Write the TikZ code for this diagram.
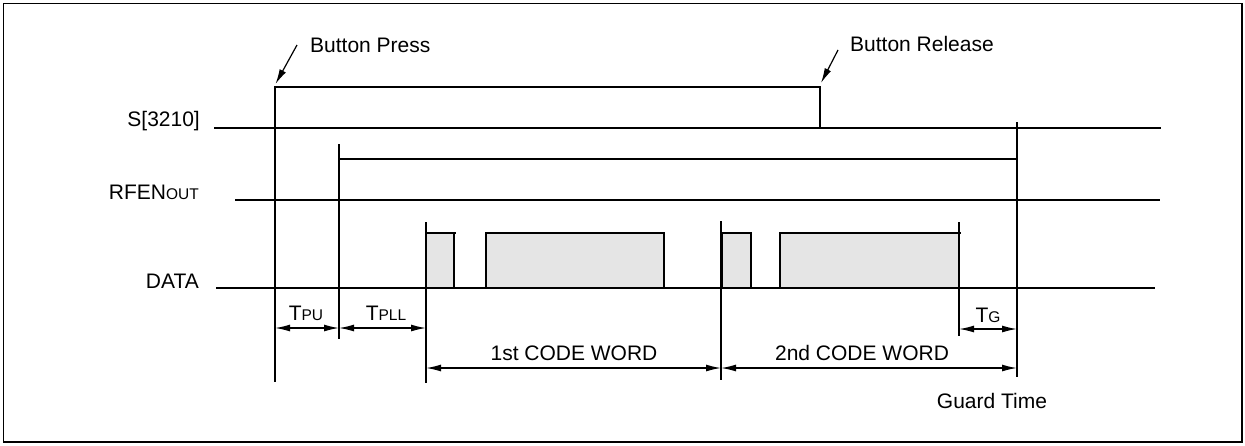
\documentclass[tikz,border=0pt]{standalone}
\usepackage{fontspec}
\setmainfont{Liberation Sans}
\usetikzlibrary{arrows.meta}
\newcommand\lowsc[1]{{\fontsize{15.5}{18}\selectfont #1}}
\begin{document}
\begin{tikzpicture}[x=1pt,y=-1pt,
  sig/.style={line width=2.3pt},
  guide/.style={line width=1.7pt},
  dim/.style={line width=1.4pt,{Latex[length=15pt,width=7pt]}-{Latex[length=15pt,width=7pt]}},
  callout/.style={line width=1.2pt,-{Latex[length=15pt,width=7pt]}},
  lbl/.style={font=\fontsize{21}{24}\selectfont, inner sep=0pt},
  pulsefill/.style={fill=black!10},
]
\useasboundingbox (0,0) rectangle (1245,445);
\draw[line width=1.7pt] (3.5,3.5) rectangle (1242,442);

% signal labels
\node[lbl, anchor=base east] (sl) at (200,126) {S[3210]};
\node[lbl, anchor=base east] (rl) at (199,199) {RFEN\lowsc{OUT}};
\node[lbl, anchor=base east] (dl) at (199,288) {DATA};

% data pulses (fill)
\fill[pulsefill] (426,233) rectangle (454,288);
\fill[pulsefill] (486,233) rectangle (664,288);
\fill[pulsefill] (722,233) rectangle (751,288);
\fill[pulsefill] (780,233) rectangle (959,288);

% guide lines
\draw[guide] (275,87) -- (275,382);
\draw[guide] (339,144) -- (339,339);
\draw[guide] (1017,122) -- (1017,377);
\draw[guide] (426,222) -- (426,383);
\draw[guide] (721,221) -- (721,380);
\draw[guide] (959,222) -- (959,336);

% S[3210]
\draw[sig] (214,128) -- (1161,128);
\draw[sig] (275,128) |- (820,87) -- (820,128);
% RFENout
\draw[sig] (235,200) -- (1160,200);
\draw[sig] (339,200) |- (1017,159) -- (1017,200);
% DATA
\draw[sig] (216,288) -- (1155,288);
\draw[sig] (426,288) |- (456,233);
\draw[sig] (454,233) -- (454,288);
\draw[sig] (486,288) |- (664,233) -- (664,288);
\draw[sig] (722,288) |- (752,233);
\draw[sig] (751,233) -- (751,288);
\draw[sig] (780,288) |- (961,233);
\draw[sig] (959,233) -- (959,288);

% callouts
\node[lbl, anchor=base west] (bp) at (310,52) {Button Press};
\node[lbl, anchor=base west] (br) at (850,51) {Button Release};
\coordinate (bpA) at (297,45);
\coordinate (bpB) at (275.5,84);
\coordinate (brA) at (838,50);
\coordinate (brB) at (821,83);
\draw[callout] (bpA) -- (bpB);
\draw[callout] (brA) -- (brB);

% dimensions
\coordinate (x0) at (275,328);
\coordinate (x1) at (339,328);
\coordinate (x2) at (426,328);
\draw[dim] (x0) -- (x1);
\draw[dim] (x1) -- (x2);
\node[lbl, anchor=base] (tpu) at (306,320) {T\lowsc{PU}};
\node[lbl, anchor=base] (tpll) at (386,320) {T\lowsc{PLL}};

\coordinate (c0) at (426,368);
\coordinate (c1) at (721,368);
\coordinate (c2) at (1017,368);
\draw[dim] (c0) -- (c1);
\draw[dim] (c1) -- (c2);
\node[lbl, anchor=base] (cw1) at (574,360) {1st CODE WORD};
\node[lbl, anchor=base] (cw2) at (862,360) {2nd CODE WORD};

\coordinate (g0) at (959,329);
\coordinate (g1) at (1017,329);
\draw[dim] (g0) -- (g1);
\node[lbl, anchor=base] (tg) at (988,322) {T\lowsc{G}};
\node[lbl, anchor=base] (gt) at (992,408) {Guard Time};
\end{tikzpicture}
\end{document}
